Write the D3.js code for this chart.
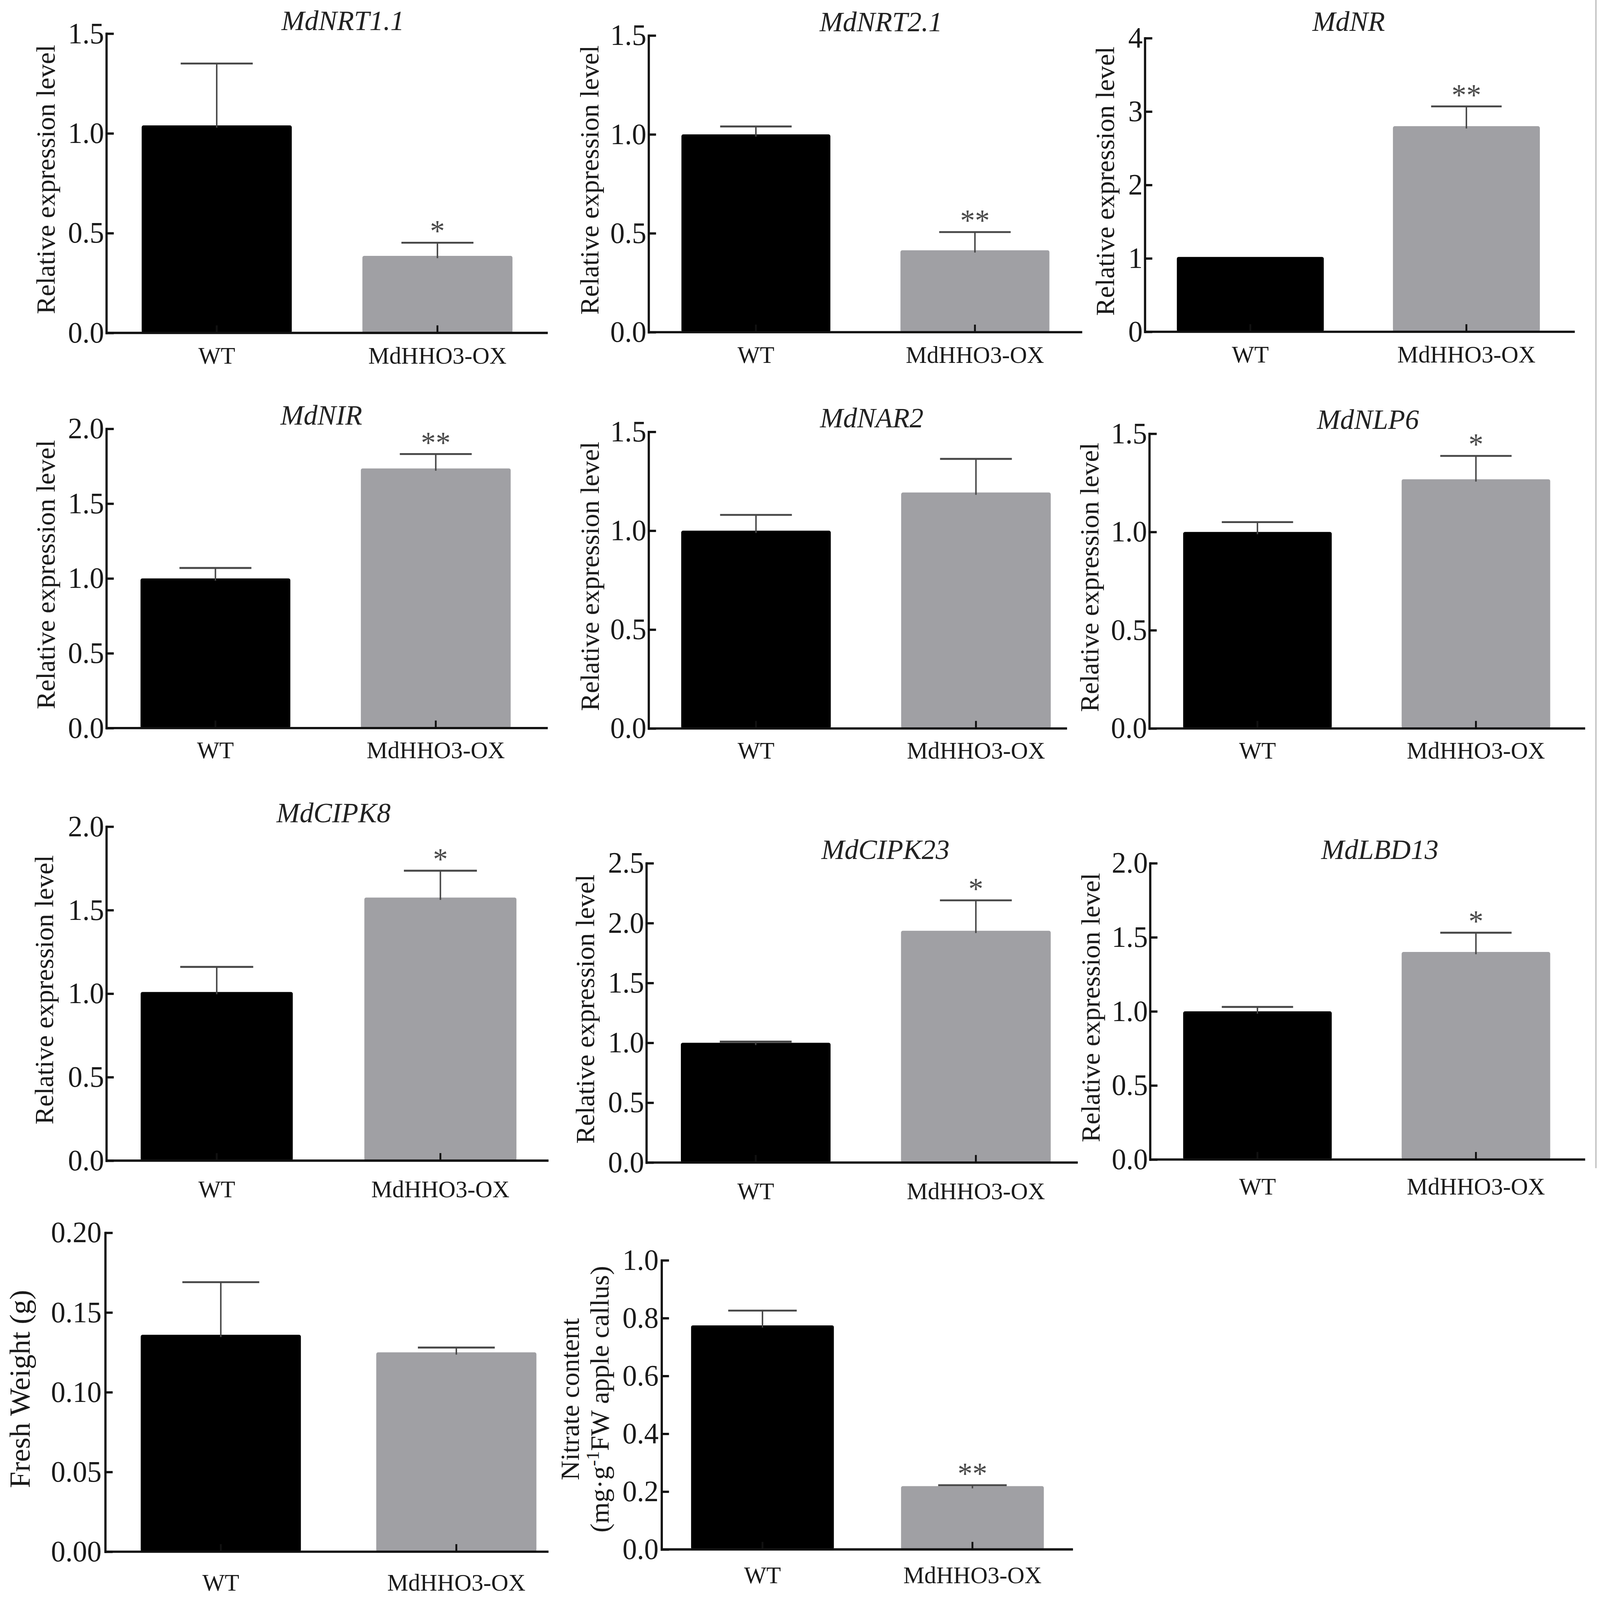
<!DOCTYPE html>
<html>
<head>
<meta charset="utf-8">
<script src="https://cdn.jsdelivr.net/npm/d3@7"></script>
<style>
  html, body { margin: 0; padding: 0; background: #fff; overflow: hidden; }
  svg { display: block; width: 100vw; height: 100vh; }
  text { font-family: "Liberation Serif", "Times New Roman", serif; fill: #1a1a1a; }
</style>
</head>
<body>
<svg id="fig" viewBox="0 0 4317 4239" preserveAspectRatio="none"></svg>
<script>
// ---- data ----
const groups = ["WT", "MdHHO3-OX"];

const genes = ["MdNRT1.1", "MdNRT2.1", "MdNR", "MdNIR", "MdNAR2", "MdNLP6", "MdCIPK8", "MdCIPK23", "MdLBD13"];
const wtMean = [1.04, 1.00, 1.02, 1.00, 1.00, 1.00, 1.01, 1.00, 1.00];
const wtSem  = [0.31, 0.04, 0.00, 0.07, 0.08, 0.05, 0.15, 0.01, 0.03];
const oxMean = [0.386, 0.414, 2.80, 1.735, 1.193, 1.268, 1.575, 1.936, 1.401];
const oxSem  = [0.066, 0.092, 0.27, 0.096, 0.170, 0.119, 0.161, 0.254, 0.130];
const oxSig  = ["*", "**", "**", "**", "", "*", "*", "*", "*"];
const geneTicks = [
  [0, 0.5, 1.0, 1.5],
  [0, 0.5, 1.0, 1.5],
  [0, 1, 2, 3, 4],
  [0, 0.5, 1.0, 1.5, 2.0],
  [0, 0.5, 1.0, 1.5],
  [0, 0.5, 1.0, 1.5],
  [0, 0.5, 1.0, 1.5, 2.0],
  [0, 0.5, 1.0, 1.5, 2.0, 2.5],
  [0, 0.5, 1.0, 1.5, 2.0]
];
const geneTickFormat = [".1f", ".1f", "d", ".1f", ".1f", ".1f", ".1f", ".1f", ".1f"];

const freshWeightMean = [0.136, 0.125];
const freshWeightSem  = [0.033, 0.003];
const freshWeightSig  = ["", ""];
const freshWeightTicks = [0, 0.05, 0.10, 0.15, 0.20];

const nitrateMean = [0.775, 0.219];
const nitrateSem  = [0.051, 0.003];
const nitrateSig  = ["", "**"];
const nitrateTicks = [0, 0.2, 0.4, 0.6, 0.8, 1.0];

// ---- panel layout (pixels in the 4317x4239 figure) ----
const layout = [
  { axisX: 287,  yTop: 89,   y0: 882,  band: [287, 1478],  axisEnd: 1478, titleX: 925,  titleY: 80,   yLabelX: [148],  xLabelDy: 81 },
  { axisX: 1750, yTop: 94,   y0: 880,  band: [1744, 2926], axisEnd: 2920, titleX: 2377, titleY: 83,   yLabelX: [1615], xLabelDy: 81 },
  { axisX: 3089, yTop: 101,  y0: 879,  band: [3082, 4248], axisEnd: 4249, titleX: 3639, titleY: 82,   yLabelX: [3006], xLabelDy: 81 },
  { axisX: 287,  yTop: 1136, y0: 1929, band: [284, 1473],  axisEnd: 1478, titleX: 867,  titleY: 1125, yLabelX: [148],  xLabelDy: 80 },
  { axisX: 1750, yTop: 1144, y0: 1930, band: [1743, 2930], axisEnd: 2879, titleX: 2352, titleY: 1132, yLabelX: [1616], xLabelDy: 80 },
  { axisX: 3101, yTop: 1149, y0: 1930, band: [3098, 4277], axisEnd: 4277, titleX: 3691, titleY: 1136, yLabelX: [2964], xLabelDy: 80 },
  { axisX: 287,  yTop: 2190, y0: 3075, band: [283, 1490],  axisEnd: 1480, titleX: 900,  titleY: 2178, yLabelX: [143],  xLabelDy: 97 },
  { axisX: 1744, yTop: 2287, y0: 3080, band: [1742, 2930], axisEnd: 2908, titleX: 2389, titleY: 2276, yLabelX: [1603], xLabelDy: 97 },
  { axisX: 3103, yTop: 2287, y0: 3072, band: [3098, 4277], axisEnd: 4277, titleX: 3723, titleY: 2276, yLabelX: [2967], xLabelDy: 93 },
  { axisX: 284,  yTop: 3266, y0: 4111, band: [278, 1549],  axisEnd: 1480, yLabelX: [80],          yLabelY: 3680, yLabelSize: 78, tickPad: 10, xLabelDy: 103 },
  { axisX: 1785, yTop: 3339, y0: 4105, band: [1774, 2907], axisEnd: 2895, yLabelX: [1562, 1642], yLabelY: 3707, yLabelSize: 72, tickPad: 8,  xLabelDy: 89 }
];

const barColor = ["#000000", "#a0a0a4"];
const errColor = "#474747";
const tickFont = 78, xFont = 64, yFont = 71, titleFont = 75, starFont = 80;

const svg = d3.select("#fig");

// build panel specs from the arrays
const panels = genes.map((g, i) => ({
  title: g,
  yLabel: ["Relative expression level"],
  mean: [wtMean[i], oxMean[i]],
  sem: [wtSem[i], oxSem[i]],
  sig: ["", oxSig[i]],
  ticks: geneTicks[i],
  fmt: geneTickFormat[i]
}));
panels.push({
  title: null, yLabel: ["Fresh Weight (g)"],
  mean: freshWeightMean, sem: freshWeightSem, sig: freshWeightSig,
  ticks: freshWeightTicks, fmt: ".2f"
});
panels.push({
  title: null, yLabel: ["Nitrate content", "nitrateUnits"],
  mean: nitrateMean, sem: nitrateSem, sig: nitrateSig,
  ticks: nitrateTicks, fmt: ".1f"
});

panels.forEach((p, i) => drawPanel(p, layout[i]));

// thin grey border seen at the right edge of the figure
svg.append("line")
  .attr("x1", 4306).attr("x2", 4306).attr("y1", 0).attr("y2", 3095)
  .attr("stroke", "#c4c4c4").attr("stroke-width", 4);

function drawPanel(p, L) {
  const g = svg.append("g");
  const rows = groups.map((name, k) => ({ name, mean: p.mean[k], sem: p.sem[k], sig: p.sig[k], k }));

  const x = d3.scaleBand().domain(groups).range(L.band).paddingInner(0.32).paddingOuter(0.16);
  const y = d3.scaleLinear().domain([0, d3.max(p.ticks)]).range([L.y0, L.yTop]);

  // bars
  g.selectAll("rect.bar").data(rows).join("rect")
    .attr("class", "bar")
    .attr("x", d => x(d.name))
    .attr("width", x.bandwidth())
    .attr("y", d => y(d.mean))
    .attr("height", d => y(0) - y(d.mean))
    .attr("rx", 5)
    .attr("fill", d => barColor[d.k]);

  // error bars (upper only)
  const cap = x.bandwidth() * 0.48;
  const eb = g.selectAll("g.err").data(rows.filter(d => d.sem > 0)).join("g").attr("class", "err");
  eb.append("line")
    .attr("x1", d => x(d.name) + x.bandwidth() / 2).attr("x2", d => x(d.name) + x.bandwidth() / 2)
    .attr("y1", d => y(d.mean) + 6).attr("y2", d => y(d.mean + d.sem))
    .attr("stroke", errColor).attr("stroke-width", 4);
  eb.append("line")
    .attr("x1", d => x(d.name) + x.bandwidth() / 2 - cap / 2).attr("x2", d => x(d.name) + x.bandwidth() / 2 + cap / 2)
    .attr("y1", d => y(d.mean + d.sem)).attr("y2", d => y(d.mean + d.sem))
    .attr("stroke", errColor).attr("stroke-width", 5);

  // significance stars
  g.selectAll("text.sig").data(rows.filter(d => d.sig)).join("text")
    .attr("class", "sig")
    .attr("x", d => x(d.name) + x.bandwidth() / 2)
    .attr("y", d => y(d.mean + d.sem) - 4)
    .attr("text-anchor", "middle")
    .attr("font-size", starFont)
    .style("fill", "#4a4a4a")
    .text(d => d.sig);

  // y axis, ticks pointing inward
  const yAxis = g.append("g")
    .attr("transform", `translate(${L.axisX},0)`)
    .call(d3.axisLeft(y).tickValues(p.ticks).tickFormat(d3.format(p.fmt))
      .tickSizeInner(-20).tickSizeOuter(0).tickPadding(L.tickPad || 6));
  yAxis.select(".domain").attr("stroke", "#111").attr("stroke-width", 6).attr("stroke-linecap", "square");
  yAxis.selectAll(".tick line").attr("stroke", "#111").attr("stroke-width", 6);
  yAxis.selectAll(".tick text").attr("font-size", tickFont).attr("font-family", null).style("fill", "#1a1a1a");

  // x axis: line to the panel edge, inward ticks at group centres
  g.append("line")
    .attr("x1", L.axisX).attr("x2", L.axisEnd).attr("y1", L.y0).attr("y2", L.y0)
    .attr("stroke", "#111").attr("stroke-width", 6);
  const xAxis = g.append("g")
    .attr("transform", `translate(0,${L.y0})`)
    .call(d3.axisBottom(x).tickSizeInner(-20).tickSizeOuter(0).tickPadding(L.xLabelDy - 0.71 * xFont));
  xAxis.select(".domain").remove();
  xAxis.selectAll(".tick line").attr("stroke", "#111").attr("stroke-width", 5);
  xAxis.selectAll(".tick text").attr("font-size", xFont).attr("font-family", null).style("fill", "#1a1a1a");

  // title
  if (p.title) {
    g.append("text")
      .attr("x", L.titleX).attr("y", L.titleY)
      .attr("text-anchor", "middle")
      .attr("font-size", titleFont)
      .attr("font-style", "italic")
      .style("fill", "#222")
      .text(p.title);
  }

  // y label(s)
  const cy = L.yLabelY !== undefined ? L.yLabelY : (L.yTop + L.y0) / 2 - 10;
  p.yLabel.forEach((lab, j) => {
    const t = g.append("text")
      .attr("transform", `translate(${L.yLabelX[j]},${cy}) rotate(-90)`)
      .attr("text-anchor", "middle")
      .attr("font-size", L.yLabelSize || yFont);
    if (lab === "nitrateUnits") {
      t.append("tspan").text("(mg·g");
      t.append("tspan").attr("font-size", 48).attr("baseline-shift", "super").text("-1");
      t.append("tspan").text("FW apple callus)");
    } else {
      t.text(lab);
    }
  });
}
</script>
</body>
</html>
